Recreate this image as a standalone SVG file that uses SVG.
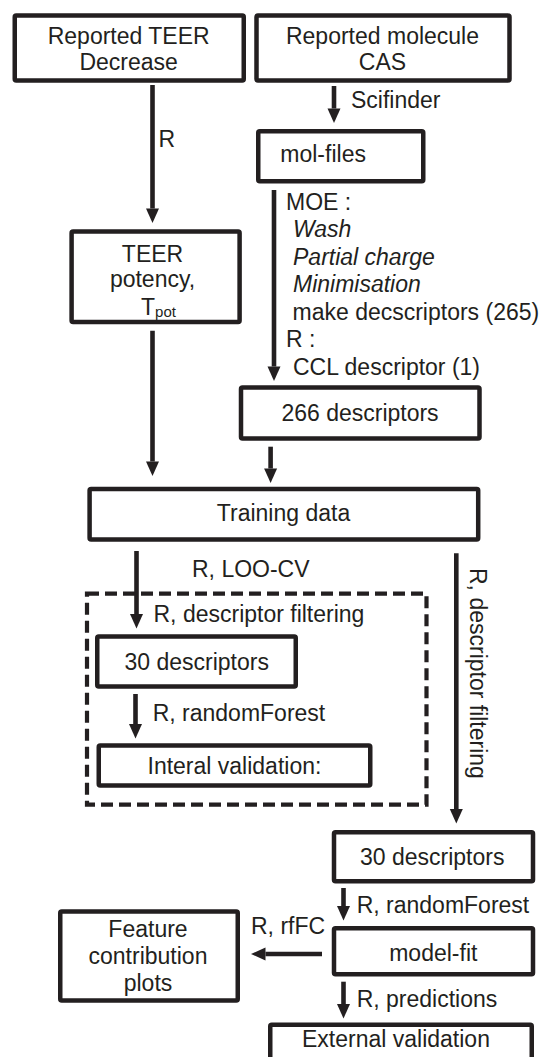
<svg xmlns="http://www.w3.org/2000/svg" width="544" height="1057" viewBox="0 0 544 1057">
<defs>
<style>
.box{fill:#fff;stroke:#231f20;stroke-width:4.5;}
.dash{fill:none;stroke:#231f20;stroke-width:4.2;stroke-dasharray:12 6;}
.t{font-family:"Liberation Sans",Arial,sans-serif;font-size:23px;fill:#231f20;}
.c{text-anchor:middle;}
.i{font-style:italic;}
.ln{fill:none;stroke:#231f20;stroke-width:4.6;marker-end:url(#ah);}
</style>
<marker id="ah" markerUnits="userSpaceOnUse" markerWidth="16" markerHeight="16" refX="0" refY="0" viewBox="0 -8 16 16" orient="auto" overflow="visible">
<path d="M0,-6.5 L14.5,0 L0,6.5 z" fill="#231f20"/>
</marker>
</defs>
<rect width="544" height="1057" fill="#fff"/>

<g id="connectors">
<line class="ln" x1="152.5" y1="85" x2="152.5" y2="208.5"/>
<line class="ln" x1="334" y1="86" x2="334" y2="108.5"/>
<line class="ln" x1="274" y1="190" x2="274" y2="366.5"/>
<line class="ln" x1="152.5" y1="330.7" x2="152.5" y2="461.5"/>
<line class="ln" x1="270.6" y1="446.7" x2="270.6" y2="468.5"/>
<line class="ln" x1="136.5" y1="551" x2="136.5" y2="614"/>
<line class="ln" x1="135.5" y1="694" x2="135.5" y2="724"/>
<line class="ln" x1="456.3" y1="553.3" x2="456.3" y2="809"/>
<line class="ln" x1="343.5" y1="888" x2="343.5" y2="906"/>
<line class="ln" x1="322" y1="954" x2="265.5" y2="954"/>
<line class="ln" x1="343.5" y1="981.7" x2="343.5" y2="1004"/>
<text class="t" x="158.5" y="146.7">R</text>
<text class="t" x="351" y="108.3">Scifinder</text>
<text class="t" x="286" y="209.5">MOE :</text>
<text class="t i" x="293" y="237">Wash</text>
<text class="t i" x="293" y="264.5">Partial charge</text>
<text class="t i" x="293" y="292">Minimisation</text>
<text class="t" x="292.5" y="319.5">make decscriptors (265)</text>
<text class="t" x="286" y="347">R :</text>
<text class="t" x="293" y="375">CCL descriptor (1)</text>
<text class="t" x="192" y="576.5">R, LOO-CV</text>
<text class="t" x="153.5" y="621.7">R, descriptor filtering</text>
<text class="t" x="152.7" y="720.7">R, randomForest</text>
<text class="t" transform="translate(470,568) rotate(90)">R, descriptor filtering</text>
<text class="t" x="356.7" y="912.7">R, randomForest</text>
<text class="t" x="251" y="934">R, rfFC</text>
<text class="t" x="356.7" y="1006.7">R, predictions</text>
<rect class="dash" x="87" y="593.7" width="339.5" height="211"/>
</g>

<g id="n-teer-decrease">
<rect class="box" x="14.75" y="15.5" width="229" height="65" rx="1.5"/>
<text class="t c" x="128.7" y="44">Reported TEER</text>
<text class="t c" x="128.7" y="70">Decrease</text>
</g>
<g id="n-molecule-cas">
<rect class="box" x="256.5" y="15.5" width="253" height="65" rx="1.5"/>
<text class="t c" x="382.5" y="44">Reported molecule</text>
<text class="t c" x="382.5" y="70">CAS</text>
</g>
<g id="n-mol-files">
<rect class="box" x="258.25" y="131.25" width="165" height="50" rx="1.5"/>
<text class="t" x="280.3" y="161.7">mol-files</text>
</g>
<g id="n-teer-potency">
<rect class="box" x="71.6" y="231.5" width="168" height="90.5" rx="1.5"/>
<text class="t c" x="152.5" y="262.3">TEER</text>
<text class="t c" x="152.5" y="287.3">potency,</text>
<text class="t" x="141" y="315">T<tspan font-size="15" dy="2">pot</tspan></text>
</g>
<g id="n-266">
<rect class="box" x="241" y="387.5" width="238.5" height="51" rx="1.5"/>
<text class="t c" x="360" y="420.7">266 descriptors</text>
</g>
<g id="n-training">
<rect class="box" x="89.6" y="489" width="388.6" height="50.5" rx="1.5"/>
<text class="t c" x="283.5" y="520.7">Training data</text>
</g>
<g id="n-30-inner">
<rect class="box" x="97.25" y="636.5" width="198.5" height="50" rx="1.5"/>
<text class="t" x="124.5" y="669.5">30 descriptors</text>
</g>
<g id="n-internal">
<rect class="box" x="98.75" y="745.5" width="271.5" height="40" rx="1.5"/>
<text class="t" x="147.5" y="774">Interal validation:</text>
</g>
<g id="n-30-outer">
<rect class="box" x="334" y="832.25" width="199" height="49" rx="1.5"/>
<text class="t" x="360" y="865">30 descriptors</text>
</g>
<g id="n-model-fit">
<rect class="box" x="334" y="928.25" width="199" height="46" rx="1.5"/>
<text class="t c" x="433.3" y="960.5">model-fit</text>
</g>
<g id="n-feature">
<rect class="box" x="60.25" y="911.5" width="177.5" height="89" rx="1.5"/>
<text class="t c" x="148" y="936.5">Feature</text>
<text class="t c" x="148" y="963.5">contribution</text>
<text class="t c" x="148" y="990.5">plots</text>
</g>
<g id="n-external">
<rect class="box" x="270.25" y="1024.75" width="261.5" height="50" rx="1.5"/>
<text class="t c" x="396" y="1046.7">External validation</text>
</g>
</svg>
